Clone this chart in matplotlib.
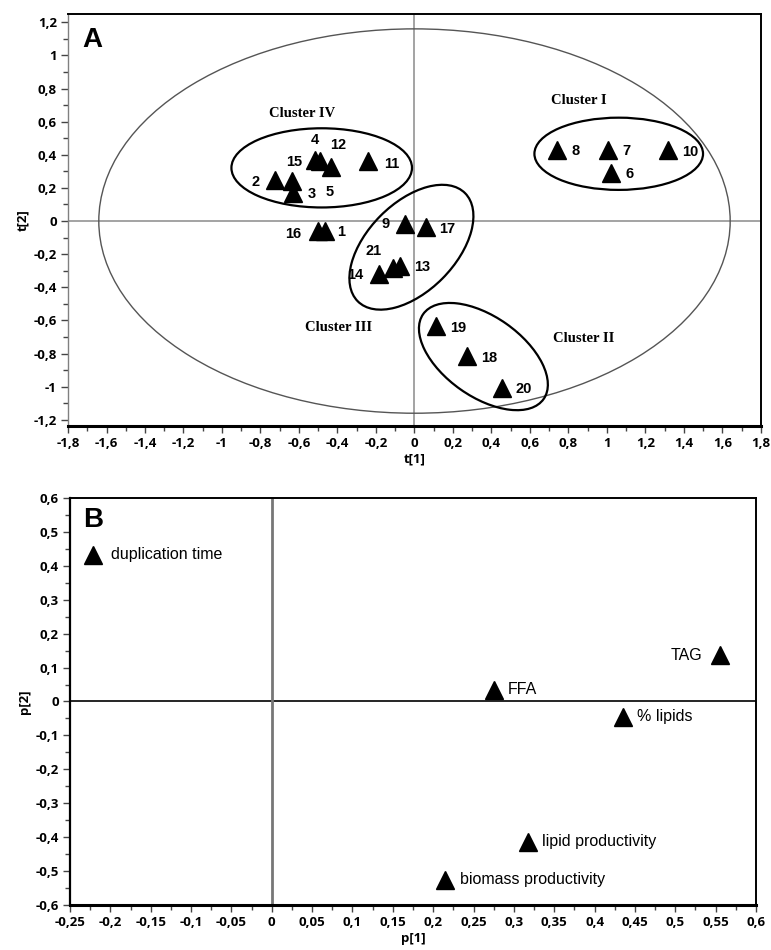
import matplotlib
matplotlib.use("Agg")
import matplotlib.pyplot as plt
import numpy as np
from matplotlib.patches import Ellipse, Circle
from matplotlib.transforms import Affine2D
from matplotlib.ticker import MultipleLocator, FuncFormatter

# ---------------- data: panel A (scores) ----------------
score_labels = ["1", "2", "3", "4", "5", "6", "7", "8", "9", "10", "11",
                "12", "13", "14", "15", "16", "17", "18", "19", "20", "21"]
t1 = [-0.467, -0.726, -0.633, -0.515, -0.638, 1.022, 1.006, 0.742, -0.047, 1.317, -0.239,
      -0.436, -0.075, -0.182, -0.490, -0.503, 0.062, 0.275, 0.114, 0.456, -0.110]
t2 = [-0.060, 0.250, 0.170, 0.370, 0.240, 0.290, 0.430, 0.430, -0.018, 0.430, 0.364,
      0.327, -0.270, -0.320, 0.360, -0.060, -0.036, -0.812, -0.636, -1.010, -0.285]

# Hotelling ellipse semi-axes
hotelling_axes = (1.64, 1.16)

cluster_names = ["Cluster I", "Cluster II", "Cluster III", "Cluster IV"]
cluster_text_xy = [(0.856, 0.727), (0.877, -0.709), (-0.394, -0.642), (-0.586, 0.648)]
# cluster ellipses: center, conjugate semi-axis vectors (data units)
cluster_centers = [(1.061, 0.406), (0.358, -0.818), (-0.016, -0.158), (-0.482, 0.321)]
cluster_v1 = [(0.438, 0.0), (0.313, -0.256), (0.279, 0.326), (0.469, 0.0)]
cluster_v2 = [(0.0, 0.218), (-0.119, -0.198), (0.161, -0.189), (0.0, 0.239)]

# ---------------- data: panel B (loadings) ----------------
load_labels = ["duplication time", "TAG", "FFA", "% lipids",
               "lipid productivity", "biomass productivity"]
p1 = [-0.221, 0.556, 0.275, 0.435, 0.318, 0.215]
p2 = [0.432, 0.137, 0.034, -0.045, -0.414, -0.526]

# ---------------- layout (label offsets in points) ----------------
score_offsets = {
    "1": (12, -0.7), "2": (-14, -1.4), "3": (13.5, -0.7), "4": (-0.7, 14.4),
    "5": (27, -7.9), "6": (13, -0.7), "7": (13, -0.7), "8": (13, -0.7),
    "9": (-14.4, 0), "10": (15.8, -1.4), "11": (16.5, -2.2), "12": (5.8, 15.8),
    "13": (15.8, -0.7), "14": (-17.3, -0.7), "15": (-18.7, -0.7), "16": (-17.3, -2.2),
    "17": (15.1, -1.4), "18": (15.8, -1.4), "19": (15.8, -1.4), "20": (15.1, -0.7),
    "21": (-14.4, 12.2),
}
load_offsets = {
    "duplication time": (13, 0, "left"), "TAG": (-13, 0, "right"),
    "FFA": (10, 0, "left"), "% lipids": (10, 0, "left"),
    "lipid productivity": (10, 0, "left"), "biomass productivity": (10.5, 0, "left"),
}

TICKFONT = dict(family=["Open Sans", "DejaVu Sans"], weight="bold", size=9.5)
LABFONT = dict(family=["Liberation Sans", "DejaVu Sans"], weight="bold", size=10.5)


def comma_fmt(v, pos):
    v = round(v, 4)
    if abs(v) < 1e-9:
        v = 0.0
    s = "{:g}".format(v)
    return s.replace(".", ",")


def style_axes(ax, left_grey=False):
    for side in ["top", "right"]:
        ax.spines[side].set_linewidth(1.4)
        ax.spines[side].set_color("black")
    ax.spines["bottom"].set_linewidth(2.2)
    ax.spines["bottom"].set_color("black")
    if left_grey:
        ax.spines["left"].set_linewidth(1.0)
        ax.spines["left"].set_color("#808080")
    else:
        ax.spines["left"].set_linewidth(1.6)
        ax.spines["left"].set_color("black")
    ax.tick_params(which="major", direction="out", length=5, width=1.0, color="#444444", pad=3)
    ax.tick_params(which="minor", direction="out", length=3.5, width=1.0, color="#444444")
    ax.xaxis.set_major_formatter(FuncFormatter(comma_fmt))
    ax.yaxis.set_major_formatter(FuncFormatter(comma_fmt))
    for lab in ax.get_xticklabels() + ax.get_yticklabels():
        lab.set_fontfamily(TICKFONT["family"])
        lab.set_fontweight(TICKFONT["weight"])
        lab.set_fontsize(TICKFONT["size"])


fig = plt.figure(figsize=(7.71, 9.5), dpi=100)

# ================= Panel A =================
axA = fig.add_axes([0.0882, 0.5516, 0.8988, 0.4337])
axA.set_xlim(-1.8, 1.8)
axA.set_ylim(-1.237, 1.25)
axA.xaxis.set_major_locator(MultipleLocator(0.2))
axA.xaxis.set_minor_locator(MultipleLocator(0.1))
axA.yaxis.set_major_locator(MultipleLocator(0.2))
axA.yaxis.set_minor_locator(MultipleLocator(0.1))
axA.axhline(0, color="#8a8a8a", lw=1.1, zorder=1)
axA.axvline(0, color="#8a8a8a", lw=1.1, zorder=1)

axA.add_patch(Ellipse((0, 0), 2 * hotelling_axes[0], 2 * hotelling_axes[1],
                      fill=False, ec="#555555", lw=1.0, zorder=2))
for c, v1, v2 in zip(cluster_centers, cluster_v1, cluster_v2):
    tr = Affine2D(np.array([[v1[0], v2[0], c[0]], [v1[1], v2[1], c[1]], [0, 0, 1]]))
    axA.add_patch(Circle((0, 0), 1.0, fill=False, ec="black", lw=1.6,
                         transform=tr + axA.transData, zorder=3))
for name, (x, y) in zip(cluster_names, cluster_text_xy):
    axA.text(x, y, name, ha="center", va="center",
             family=["Liberation Serif", "DejaVu Serif"], weight="bold", size=10.5, zorder=4)

axA.plot(t1, t2, linestyle="none", marker="^", ms=13.5, color="black", zorder=5)
for lab, x, y in zip(score_labels, t1, t2):
    dx, dy = score_offsets[lab]
    axA.annotate(lab, (x, y), xytext=(dx, dy), textcoords="offset points",
                 ha="center", va="center", zorder=6, **LABFONT)

axA.text(0.02, 0.968, "A", transform=axA.transAxes, ha="left", va="top",
         family=["Liberation Sans", "DejaVu Sans"], weight="bold", size=20)
style_axes(axA, left_grey=True)
axA.set_xlabel("t[1]", labelpad=2, **{**TICKFONT, "size": 9.5})
axA.set_ylabel("t[2]", labelpad=3, **{**TICKFONT, "size": 9.5})

# ================= Panel B =================
axB = fig.add_axes([0.0908, 0.0474, 0.8897, 0.4284])
axB.set_xlim(-0.25, 0.6)
axB.set_ylim(-0.6, 0.6)
axB.xaxis.set_major_locator(MultipleLocator(0.05))
axB.xaxis.set_minor_locator(MultipleLocator(0.025))
axB.yaxis.set_major_locator(MultipleLocator(0.1))
axB.yaxis.set_minor_locator(MultipleLocator(0.05))
axB.axhline(0, color="black", lw=1.2, zorder=1)
axB.axvline(0, color="#777777", lw=2.0, zorder=1)

axB.plot(p1, p2, linestyle="none", marker="^", ms=13.5, color="black", zorder=5)
for lab, x, y in zip(load_labels, p1, p2):
    dx, dy, ha = load_offsets[lab]
    axB.annotate(lab, (x, y), xytext=(dx, dy), textcoords="offset points",
                 ha=ha, va="center", family=["Liberation Sans", "DejaVu Sans"],
                 size=11.5, zorder=6)

axB.text(0.019, 0.978, "B", transform=axB.transAxes, ha="left", va="top",
         family=["Liberation Sans", "DejaVu Sans"], weight="bold", size=20)
style_axes(axB)
axB.set_xlabel("p[1]", labelpad=2, **{**TICKFONT, "size": 9.5})
axB.set_ylabel("p[2]", labelpad=3, **{**TICKFONT, "size": 9.5})

fig.savefig("out.png", dpi=100)
